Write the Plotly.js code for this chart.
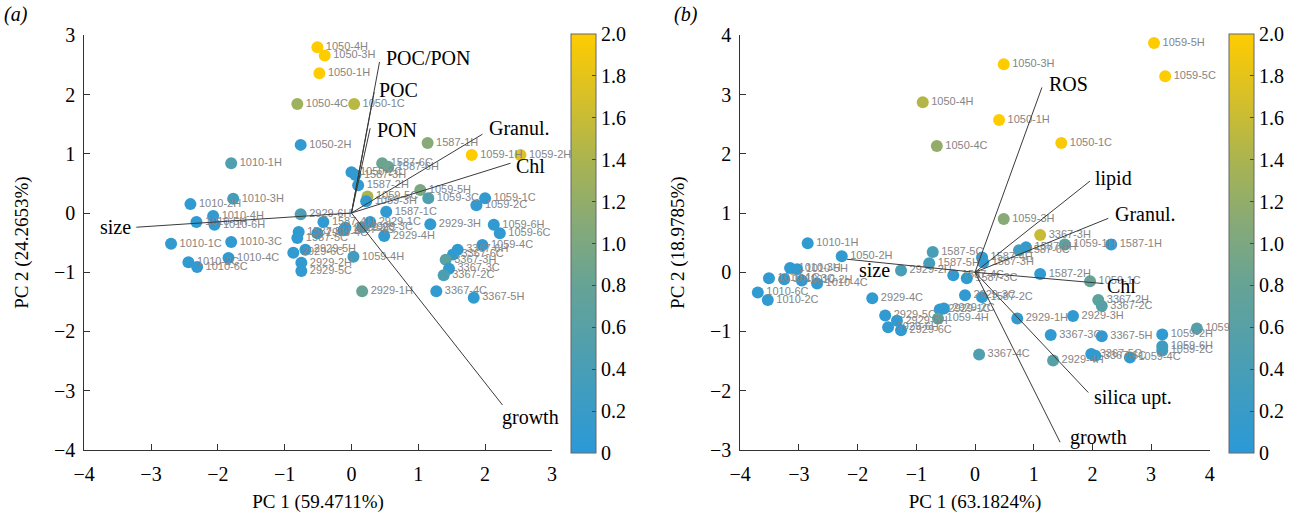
<!DOCTYPE html>
<html>
<head>
<meta charset="utf-8">
<script src="https://cdn.plot.ly/plotly-3.0.1.min.js"></script>
<style>html,body{margin:0;padding:0;background:#fff;}#chart{width:1306px;height:519px;}</style>
</head>
<body>
<div id="chart"></div>
<script>
// ---------- Panel (a) sample scores ----------
const labelsA = ['1050-4H','1050-3H','1050-1H','1050-4C','1050-1C','1050-2H','1587-1H','1059-1H','1059-2H',
  '1587-6C','1587-6H','1050-2C','1587-3H','1587-2H','1059-5H','1059-3C','1059-5C','1059-3H','1059-1C','1059-2C',
  '1587-1C','2929-6H','1587-4H','2929-1C','2929-3C','2929-2C','1587-4C','2929-3H','1059-6H','1059-6C','2929-4H',
  '1059-4C','3367-6H','3367-6C','3367-3H','3367-3C','3367-2C','2929-1H','3367-4C','3367-5H','1059-4H',
  '1587-5H','1587-5C','2929-4C','2929-5H','2929-6C','2929-2H','2929-5C',
  '1010-1H','1010-3H','1010-2H','1010-4H','1010-5H','1010-6H','1010-1C','1010-3C','1010-2C','1010-4C','1010-6C'];
const pc1A = [-0.51,-0.40,-0.48,-0.81,0.04,-0.76,1.14,1.80,2.53,
  0.46,0.55,0.00,0.06,0.10,1.03,1.15,0.24,0.22,2.00,1.87,
  0.52,-0.76,-0.42,0.28,0.16,-0.09,-0.12,1.18,2.13,2.22,0.49,
  1.96,1.59,1.52,1.41,1.46,1.38,0.16,1.27,1.83,0.03,
  -0.79,-0.81,-0.51,-0.69,-0.87,-0.75,-0.75,
  -1.80,-1.77,-2.41,-2.07,-2.32,-2.05,-2.70,-1.80,-2.44,-1.84,-2.31];
const pc2A = [2.80,2.66,2.36,1.84,1.84,1.15,1.18,0.98,0.98,
  0.84,0.78,0.69,0.64,0.47,0.39,0.25,0.28,0.20,0.25,0.13,
  0.02,-0.02,-0.15,-0.15,-0.24,-0.25,-0.29,-0.19,-0.20,-0.34,-0.39,
  -0.54,-0.62,-0.70,-0.79,-0.94,-1.05,-1.32,-1.32,-1.43,-0.74,
  -0.32,-0.42,-0.34,-0.62,-0.67,-0.84,-0.98,
  0.84,0.24,0.15,-0.05,-0.15,-0.20,-0.52,-0.49,-0.83,-0.76,-0.91];
const colorA = [2.0,2.0,2.0,1.3,1.5,0.08,1.1,2.0,1.75,
  0.85,0.85,0.08,0.08,0.08,1.0,0.5,1.4,0.08,0.08,0.08,
  0.08,0.45,0.08,0.08,0.08,0.08,0.08,0.08,0.08,0.08,0.08,
  0.08,0.08,0.08,0.65,0.08,0.45,0.8,0.08,0.08,0.3,
  0.08,0.08,0.08,0.08,0.08,0.08,0.08,
  0.5,0.35,0.08,0.08,0.08,0.08,0.08,0.08,0.08,0.08,0.08];

// ---------- Panel (a) loadings ----------
const varsA = ['POC/PON','POC','PON','Granul.','Chl','size','growth'];
const loadXA = [0.42,0.34,0.28,1.96,2.38,-3.22,2.26];
const loadYA = [2.55,2.04,1.43,1.33,0.84,-0.24,-3.24];

// ---------- Panel (b) sample scores ----------
// (the label of the right-most point is cut to "1059-" at the panel edge in the original)
const labelsB = ['1059-5H','1059-5C','1050-3H','1050-4H','1050-1H','1050-1C','1050-4C','1059-3H','3367-3H','1059-1H',
  '1587-1H','1587-6C','1587-6H','1587-5C','1587-5H','1587-3H','1587-4H','1587-2H','1059-1C','1587-3C','1587-4C',
  '2929-2H','1587-2C','2929-3C','3367-2H','3367-2C','2929-1H','2929-3H','3367-5H','1059-2H','1059-6H','1059-2C',
  '1059-','3367-3C','3367-4C','2929-4H','3367-5C','3367-6C','1059-4C','2929-1C','2929-2C','1059-4H','2929-5C',
  '2929-5H','2929-6C','2929-6H','2929-4C','1050-2H','1010-1H',
  '1010-3H','1010-5H','1010-1C','1010-3C','1010-2H','1010-4C','1010-6C','1010-2C'];
const pc1B = [3.05,3.24,0.49,-0.89,0.41,1.47,-0.65,0.49,1.11,1.53,
  2.32,0.75,0.87,-0.72,-0.78,0.14,0.12,1.11,1.96,-0.14,-0.37,
  -1.26,0.12,-0.17,2.10,2.16,0.72,1.67,2.16,3.19,3.19,3.19,
  3.78,1.29,0.07,1.33,1.98,2.05,2.64,-0.60,-0.53,-0.63,-1.53,
  -1.33,-1.26,-1.48,-1.75,-2.27,-2.85,
  -3.15,-3.03,-3.51,-3.25,-2.95,-2.69,-3.70,-3.53];
const pc2B = [3.87,3.31,3.51,2.87,2.57,2.18,2.13,0.90,0.63,0.47,
  0.47,0.37,0.42,0.34,0.15,0.17,0.25,-0.03,-0.15,-0.10,-0.05,
  0.03,-0.42,-0.39,-0.47,-0.57,-0.78,-0.74,-1.08,-1.05,-1.25,-1.32,
  -0.95,-1.06,-1.39,-1.49,-1.38,-1.41,-1.44,-0.63,-0.61,-0.78,-0.73,
  -0.82,-0.98,-0.93,-0.44,0.27,0.49,
  0.07,0.05,-0.10,-0.12,-0.14,-0.19,-0.34,-0.47];
const colorB = [2.0,2.0,2.0,1.45,2.0,1.95,1.2,1.1,1.6,0.7,
  0.08,0.3,0.12,0.4,0.35,0.08,0.08,0.08,0.8,0.08,0.08,
  0.4,0.08,0.08,0.7,0.6,0.08,0.08,0.08,0.08,0.3,0.3,
  0.55,0.08,0.5,0.6,0.08,0.08,0.08,0.08,0.08,0.7,0.08,
  0.08,0.08,0.08,0.08,0.08,0.08,
  0.08,0.08,0.08,0.08,0.08,0.08,0.08,0.08];

// ---------- Panel (b) loadings ----------
const varsB = ['ROS','lipid','Granul.','Chl','size','silica upt.','growth'];
const loadXB = [1.14,1.96,2.27,2.18,-2.18,1.93,1.45];
const loadYB = [3.12,1.54,0.91,-0.19,0.22,-2.03,-2.87];

// ---------- Colour bar ----------
const cbTickVals = [0,0.2,0.4,0.6,0.8,1.0,1.2,1.4,1.6,1.8,2.0];
const cbTickText = ['0','0.2','0.4','0.6','0.8','1.0','1.2','1.4','1.6','1.8','2.0'];

// ---------- styling ----------
const W = 1306, H = 519;
const serif = 'Liberation Serif, Times New Roman, serif';
const scale = [[0,'rgb(42,153,216)'],[0.2,'rgb(72,158,182)'],[0.4,'rgb(102,163,150)'],[0.55,'rgb(135,170,118)'],
  [0.7,'rgb(170,180,80)'],[0.85,'rgb(215,192,40)'],[1,'rgb(255,204,0)']];

function colorbar(leftPx){
  return {x: leftPx/W, xanchor:'left', xpad:0, y: 1-34/H, yanchor:'top', ypad:0,
    len: 419/H, lenmode:'fraction', thickness:25, thicknessmode:'pixels',
    outlinewidth:1, outlinecolor:'#666', ticks:'inside', ticklen:4, tickcolor:'#444',
    tickvals: cbTickVals, ticktext: cbTickText, ticklabelstandoff: 4,
    tickfont:{family:serif, size:20, color:'#000'}};
}
function scoreTrace(x,y,t,c,xa,ya,cbLeft){
  return {type:'scatter', mode:'markers+text', x:x, y:y, text:t, xaxis:xa, yaxis:ya,
    textposition:'middle right', cliponaxis:false,
    textfont:{family:'Liberation Sans, Arial, sans-serif', size:11, color:'#858585'},
    marker:{size:12, color:c, colorscale:scale, cmin:0, cmax:2, showscale:true, colorbar:colorbar(cbLeft), line:{width:0}},
    hoverinfo:'text', showlegend:false};
}
function loadTrace(lx,ly,xa,ya){
  const xs=[], ys=[];
  for(let i=0;i<lx.length;i++){ xs.push(0,lx[i],null); ys.push(0,ly[i],null); }
  return {type:'scatter', mode:'lines', x:xs, y:ys, xaxis:xa, yaxis:ya,
    line:{color:'#3a3a3a', width:1}, hoverinfo:'skip', showlegend:false};
}
// label placement relative to vector tip (pixels)
const placeA = [
  {xa:'left', dx:4, dy:4}, {xa:'left', dx:3, dy:2}, {xa:'left', dx:5, dy:-2},
  {xa:'left', dx:5, dy:6}, {xa:'left', dx:4, dy:-3}, {xa:'right', dx:-3, dy:0}, {xa:'left', dx:-2, dy:-13}];
const placeB = [
  {xa:'left', dx:5, dy:3}, {xa:'left', dx:3, dy:3}, {xa:'left', dx:5, dy:4},
  {xa:'left', dx:2, dy:-2}, {xa:'left', dx:10, dy:-11}, {xa:'left', dx:4, dy:-5}, {xa:'left', dx:8, dy:5}];
function loadLabels(names,lx,ly,place,xr,yr){
  return names.map((n,i)=>({text:n, x:lx[i], y:ly[i], xref:xr, yref:yr, showarrow:false,
    xanchor:place[i].xa, yanchor:'middle', xshift:place[i].dx, yshift:place[i].dy,
    font:{family:serif, size:20, color:'#000'}}));
}

const data = [
  scoreTrace(pc1A,pc2A,labelsA,colorA,'x','y',571),
  loadTrace(loadXA,loadYA,'x','y'),
  scoreTrace(pc1B,pc2B,labelsB,colorB,'x2','y2',1229),
  loadTrace(loadXB,loadYB,'x2','y2')
];

function axis(domain, range, tickv, title, anchor, isY){
  return {domain:domain, range:range, tickvals:tickv, showline:true, linecolor:'#333', linewidth:1,
    ticks:'inside', ticklen:6, tickcolor:'#333', showgrid:false, zeroline:false, anchor:anchor,
    ticklabelstandoff: isY?4:6,
    tickfont:{family:serif, size:20, color:'#000'},
    title:{text:title, font:{family:serif, size:19, color:'#000'}, standoff: isY?20:10},
    automargin:false, fixedrange:true};
}
const yDom = [0.133, 0.932];
const layout = {
  width:W, height:H, margin:{l:0,r:0,t:0,b:0}, paper_bgcolor:'#fff', plot_bgcolor:'#fff',
  xaxis: axis([84.2/W, 551.9/W], [-4,3], [-4,-3,-2,-1,0,1,2,3], 'PC 1 (59.4711%)', 'y', false),
  yaxis: axis(yDom, [-4,3], [-4,-3,-2,-1,0,1,2,3], 'PC 2 (24.2653%)', 'x', true),
  xaxis2: axis([740.2/W, 1209.8/W], [-4,4], [-4,-3,-2,-1,0,1,2,3,4], 'PC 1 (63.1824%)', 'y2', false),
  yaxis2: axis(yDom, [-3,4], [-3,-2,-1,0,1,2,3,4], 'PC 2 (18.9785%)', 'x2', true),
  annotations: [
    ...loadLabels(varsA,loadXA,loadYA,placeA,'x','y'),
    ...loadLabels(varsB,loadXB,loadYB,placeB,'x2','y2'),
    {text:'<i>(a)</i>', xref:'paper', yref:'paper', x:16/W, y:1-14/H, showarrow:false, xanchor:'center', yanchor:'middle', font:{family:serif, size:20, color:'#000'}},
    {text:'<i>(b)</i>', xref:'paper', yref:'paper', x:686/W, y:1-14/H, showarrow:false, xanchor:'center', yanchor:'middle', font:{family:serif, size:20, color:'#000'}}
  ]
};
Plotly.newPlot('chart', data, layout, {displayModeBar:false, staticPlot:true});
</script>
</body>
</html>
